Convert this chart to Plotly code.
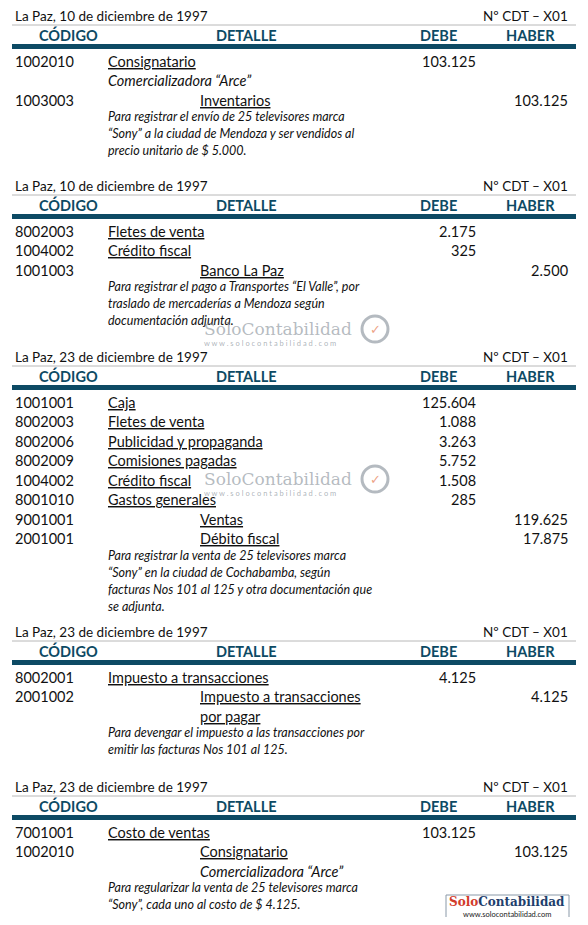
import plotly.graph_objects as go

W, H = 588, 925
M = 8  # page body margin
FONT = "Lato"
DARK = "#0d4a64"

dates = ["La Paz, 10 de diciembre de 1997", "La Paz, 10 de diciembre de 1997",
         "La Paz, 23 de diciembre de 1997", "La Paz, 23 de diciembre de 1997",
         "La Paz, 23 de diciembre de 1997"]
doc_no = "Nº CDT – X01"
headers = ["CÓDIGO", "DETALLE", "DEBE", "HABER"]

codes = [
    ["1002010", "", "1003003"],
    ["8002003", "1004002", "1001003"],
    ["1001001", "8002003", "8002006", "8002009", "1004002", "8001010", "9001001", "2001001"],
    ["8002001", "2001002", ""],
    ["7001001", "1002010", ""],
]
accounts = [
    ["Consignatario", "Comercializadora “Arce”", "Inventarios"],
    ["Fletes de venta", "Crédito fiscal", "Banco La Paz"],
    ["Caja", "Fletes de venta", "Publicidad y propaganda", "Comisiones pagadas",
     "Crédito fiscal", "Gastos generales", "Ventas", "Débito fiscal"],
    ["Impuesto a transacciones", "Impuesto a transacciones", "por pagar"],
    ["Costo de ventas", "Consignatario", "Comercializadora “Arce”"],
]
debe = [
    ["103.125", "", ""],
    ["2.175", "325", ""],
    ["125.604", "1.088", "3.263", "5.752", "1.508", "285", "", ""],
    ["4.125", "", ""],
    ["103.125", "", ""],
]
haber = [
    ["", "", "103.125"],
    ["", "", "2.500"],
    ["", "", "", "", "", "", "119.625", "17.875"],
    ["", "4.125", ""],
    ["", "103.125", ""],
]
credit_side = [
    [False, False, True],
    [False, False, True],
    [False] * 6 + [True, True],
    [False, True, True],
    [False, True, True],
]
italic_row = [
    [False, True, False],
    [False, False, False],
    [False] * 8,
    [False, False, False],
    [False, False, True],
]
notes = [
    ["Para registrar el envío de 25 televisores marca",
     "“Sony” a la ciudad de Mendoza y ser vendidos al",
     "precio unitario de $ 5.000."],
    ["Para registrar el pago a Transportes “El Valle”, por",
     "traslado de mercaderías a Mendoza según",
     "documentación adjunta."],
    ["Para registrar la venta de 25 televisores marca",
     "“Sony” en la ciudad de Cochabamba, según",
     "facturas Nos 101 al 125 y otra documentación que",
     "se adjunta."],
    ["Para devengar el impuesto a las transacciones por",
     "emitir las facturas Nos 101 al 125."],
    ["Para regularizar la venta de 25 televisores marca",
     "“Sony”, cada uno al costo de $ 4.125."],
]
block_top = [16, 186, 357, 632, 787]

fig = go.Figure()
ann = []
shapes = []

def txt(x, y, s, size=14.5, color="#111", anchor="left", family=FONT):
    dx = -2 if anchor == "left" else (2 if anchor == "right" else 0)
    ann.append(dict(x=x + dx, y=y, text=s, showarrow=False, xanchor=anchor, yanchor="middle",
                    font=dict(family=family, size=size, color=color)))

shapes.append(dict(type="rect", x0=3, y0=3, x1=585, y1=921, line=dict(color="#c9d6de", width=1.2)))

for b, top in enumerate(block_top):
    txt(15, top, dates[b], 13.5)
    txt(568, top, doc_no, 13.5, anchor="right")
    shapes.append(dict(type="line", x0=12, x1=576, y0=top + 9, y1=top + 9, line=dict(color="#b8b8b8", width=1)))
    hy = top + 19
    for h, xc in zip(headers, [68, 246, 438, 530]):
        txt(xc, hy, "<b>" + h + "</b>", 14.5, DARK, anchor="center")
    shapes.append(dict(type="rect", x0=12, x1=576, y0=top + 28, y1=top + 33, fillcolor=DARK, line=dict(width=0)))
    y = top + 45
    for i in range(len(codes[b])):
        if codes[b][i]:
            txt(15, y, codes[b][i])
        a = accounts[b][i]
        x = 200 if credit_side[b][i] else 108
        if italic_row[b][i]:
            s = "<i>" + a + "</i>"
        else:
            s = '<span style="text-decoration:underline">' + a + "</span>"
        txt(x, y, s)
        if debe[b][i]:
            txt(476, y, debe[b][i], anchor="right")
        if haber[b][i]:
            txt(568, y, haber[b][i], anchor="right")
        y += 19.5
    y -= 3
    for n in notes[b]:
        txt(108, y, "<i>" + n + "</i>", 12.5)
        y += 17

for wy in [330, 480]:
    txt(204, wy - 1, "SoloContabilidad", 17, "rgba(120,130,140,0.55)", family="DejaVu Serif")
    txt(204, wy + 13, "w w w . s o l o c o n t a b i l i d a d . c o m", 7.5, "rgba(120,130,140,0.6)")
    shapes.append(dict(type="circle", x0=362, x1=388, y0=wy - 14, y1=wy + 12,
                       line=dict(color="rgba(130,140,150,0.6)", width=3)))
    txt(375, wy - 1, "✓", 13, "rgba(230,120,80,0.7)", anchor="center")

shapes.append(dict(type="rect", x0=446, x1=569, y0=895, y1=918, line=dict(color="#8a99a8", width=1), fillcolor="white"))
txt(507, 902, '<span style="color:#d23b2a"><b>Solo</b></span><b>Contabilidad</b>', 12, "#1f3f6d",
    anchor="center", family="DejaVu Serif")
txt(507, 914, "www.solocontabilidad.com", 7.5, "#222", anchor="center")

fig.update_layout(width=W - 2 * M, height=H - 2 * M, margin=dict(l=0, r=0, t=0, b=0),
                  paper_bgcolor="white", plot_bgcolor="white",
                  xaxis=dict(range=[M, W - M], visible=False, fixedrange=True),
                  yaxis=dict(range=[H - M, M], visible=False, fixedrange=True),
                  annotations=ann, shapes=shapes, showlegend=False)
fig.write_html("out.html")
